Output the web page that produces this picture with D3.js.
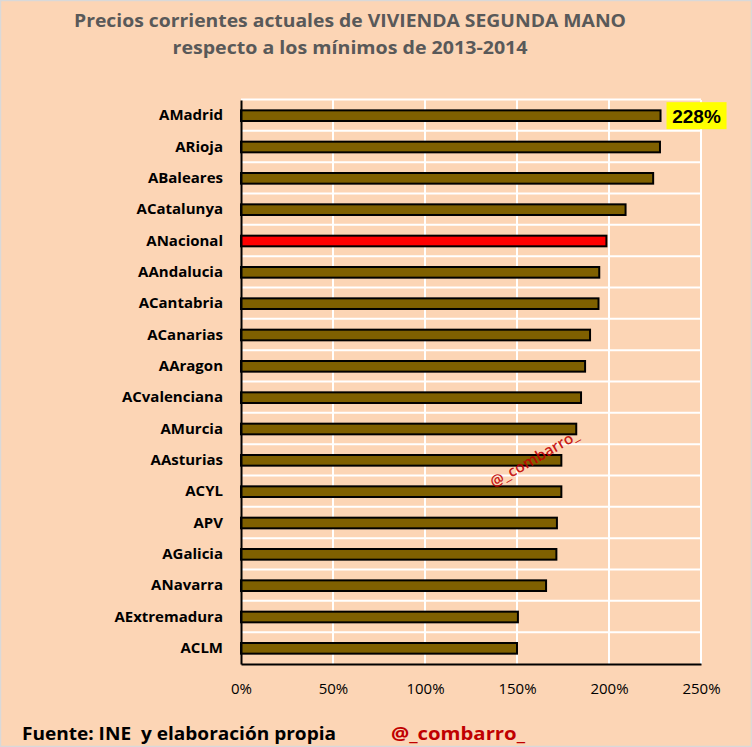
<!DOCTYPE html>
<html>
<head>
<meta charset="utf-8">
<script src="https://cdn.jsdelivr.net/npm/d3@7"></script>
<style>
  body { margin: 0; background: #fff; }
  svg { display: block; }
</style>
</head>
<body>
<svg id="chart"></svg>
<script>
// data (ratio vs 2013-2014 minimum)
const categories = ["AMadrid", "ARioja", "ABaleares", "ACatalunya", "ANacional", "AAndalucia",
  "ACantabria", "ACanarias", "AAragon", "ACvalenciana", "AMurcia", "AAsturias",
  "ACYL", "APV", "AGalicia", "ANavarra", "AExtremadura", "ACLM"];
const values = [2.28, 2.277, 2.24, 2.09, 1.986, 1.947, 1.943, 1.897, 1.87, 1.848, 1.822, 1.741,
  1.741, 1.717, 1.714, 1.658, 1.505, 1.50];
const highlight = "ANacional";
const xTicks = [0, 0.5, 1, 1.5, 2, 2.5];

const width = 752, height = 747;
const margin = { top: 100, right: 51, bottom: 83, left: 241 };

const svg = d3.select("#chart")
  .attr("width", width)
  .attr("height", height);

svg.append("rect")
  .attr("x", 0.5).attr("y", 0.5)
  .attr("width", width - 1).attr("height", height - 1)
  .attr("fill", "#FCD5B5")
  .attr("stroke", "#d9d9d9")
  .attr("stroke-width", 1.5);

const x = d3.scaleLinear().domain([0, 2.5]).range([margin.left, width - margin.right]);
const y = d3.scaleBand().domain(categories).range([margin.top, height - margin.bottom]).paddingInner(0.66).paddingOuter(0.33);

// title
const title = svg.append("g")
  .attr("font-family", "'Open Sans', sans-serif")
  .attr("font-weight", "bold")
  .attr("font-size", "18px")
  .attr("fill", "#595959")
  .attr("text-anchor", "middle");
title.append("text").attr("x", 350).attr("y", 27).text("Precios corrientes actuales de VIVIENDA SEGUNDA MANO")
  .attr("textLength", 552).attr("lengthAdjust", "spacingAndGlyphs");
title.append("text").attr("x", 350).attr("y", 54).text("respecto a los mínimos de 2013-2014")
  .attr("textLength", 355).attr("lengthAdjust", "spacingAndGlyphs");

// gridlines
const grid = svg.append("g").attr("stroke", "#fff").attr("stroke-width", 2);
grid.selectAll(".vgrid")
  .data(xTicks.slice(1))
  .join("line")
  .attr("class", "vgrid")
  .attr("x1", d => x(d)).attr("x2", d => x(d))
  .attr("y1", margin.top).attr("y2", height - margin.bottom);
const step = y.step();
grid.selectAll(".hgrid")
  .data(categories)
  .join("line")
  .attr("class", "hgrid")
  .attr("x1", margin.left).attr("x2", width - margin.right)
  .attr("y1", d => y(d) - y.paddingInner() * step / 2 - 0.5)
  .attr("y2", d => y(d) - y.paddingInner() * step / 2 - 0.5);

// bars
svg.append("g")
  .selectAll("rect")
  .data(categories)
  .join("rect")
  .attr("x", x(0))
  .attr("y", d => y(d))
  .attr("width", (d, i) => x(values[i]) - x(0))
  .attr("height", y.bandwidth())
  .attr("fill", d => d === highlight ? "#FF0000" : "#7F6000")
  .attr("stroke", "#000")
  .attr("stroke-width", 2);

// axes
const xAxis = svg.append("g")
  .attr("transform", `translate(0,${height - margin.bottom})`)
  .call(d3.axisBottom(x).tickValues(xTicks).tickFormat(d3.format(".0%")).tickSize(0).tickPadding(19));
xAxis.select(".domain").attr("stroke", "#000").attr("stroke-width", 2);
xAxis.selectAll("text")
  .attr("font-family", "'Open Sans', sans-serif")
  .attr("font-size", "15px")
  .attr("fill", "#000");

const yAxis = svg.append("g")
  .attr("transform", `translate(${margin.left},0)`)
  .call(d3.axisLeft(y).tickSize(0).tickPadding(18));
yAxis.select(".domain").attr("stroke", "#000").attr("stroke-width", 2);
yAxis.selectAll("text")
  .attr("font-family", "'Open Sans', sans-serif")
  .attr("font-weight", "bold")
  .attr("font-size", "15px")
  .attr("fill", "#000");

// label on top bar
const first = categories[0];
const lbl = svg.append("g")
  .attr("transform", `translate(${x(values[0]) + 6},${y(first) + y.bandwidth() / 2})`);
lbl.append("rect")
  .attr("x", 0).attr("y", -13.5)
  .attr("width", 60).attr("height", 27)
  .attr("fill", "#FFFF00");
lbl.append("text")
  .attr("x", 30).attr("y", 7)
  .attr("text-anchor", "middle")
  .attr("font-family", "'Liberation Sans', Arial, sans-serif")
  .attr("font-weight", "bold")
  .attr("font-size", "19px")
  .attr("fill", "#000")
  .text(d3.format(".0%")(values[0]));

// watermark
svg.append("text")
  .attr("transform", "translate(537,463) rotate(-30)")
  .attr("text-anchor", "middle")
  .attr("font-family", "'Open Sans', sans-serif")
  .attr("font-size", "15px")
  .attr("font-weight", "600")
  .attr("fill", "#C00000")
  .attr("fill-opacity", 0.9)
  .attr("textLength", 100).attr("lengthAdjust", "spacingAndGlyphs")
  .text("@_combarro_");

// footer
const foot = svg.append("g")
  .attr("font-family", "'Open Sans', sans-serif")
  .attr("font-weight", "bold")
  .attr("font-size", "17px");
foot.append("text").attr("x", 22).attr("y", 740).attr("fill", "#000")
  .text("Fuente: INE\u00a0 y elaboración propia")
  .attr("textLength", 314).attr("lengthAdjust", "spacingAndGlyphs");
foot.append("text").attr("x", 391).attr("y", 740).attr("fill", "#C00000")
  .text("@_combarro_")
  .attr("textLength", 134).attr("lengthAdjust", "spacingAndGlyphs");
</script>
</body>
</html>
